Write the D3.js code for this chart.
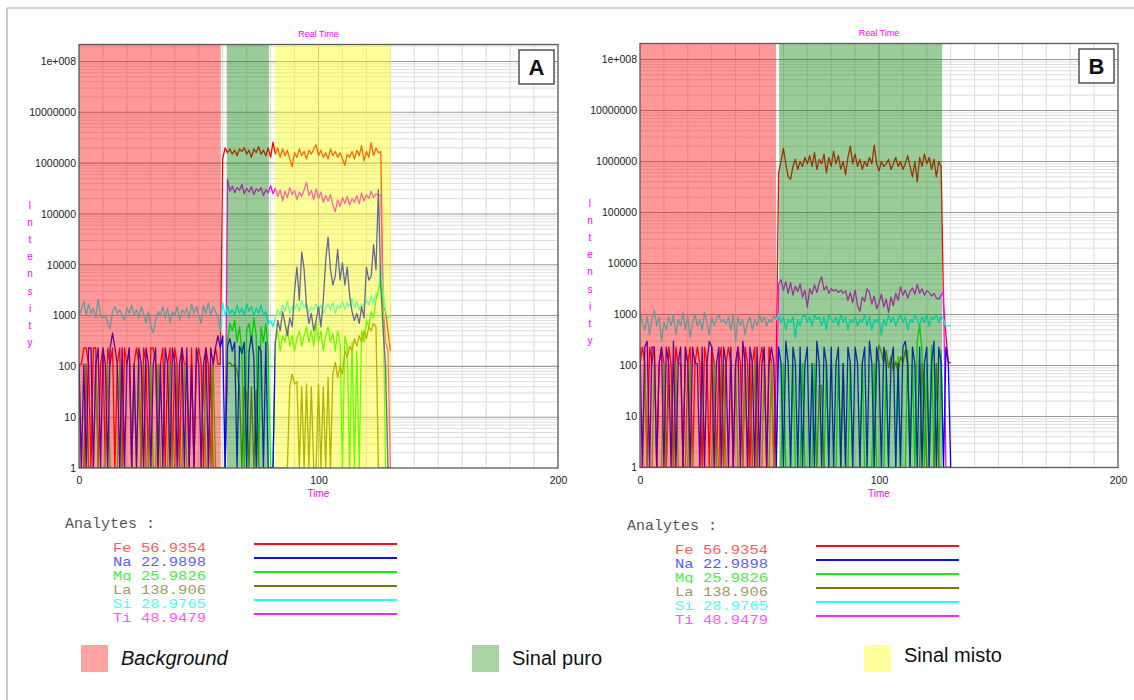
<!DOCTYPE html>
<html>
<head>
<meta charset="utf-8">
<script src="https://cdn.jsdelivr.net/npm/d3@7"></script>
<style>
  body { margin: 0; background: #fff; }
  svg { display: block; }
</style>
</head>
<body>
<svg id="chart" width="1134" height="700"></svg>
<script>
// ---------- data ----------
// one reading per second, 0..130 s
const time = d3.range(0, 131);

const analyteNames  = ["Fe", "Na", "Mg", "La", "Si", "Ti"];
const analyteMasses = ["56.9354", "22.9898", "25.9826", "138.906", "28.9765", "48.9479"];

const yTickValues = [1, 10, 100, 1e3, 1e4, 1e5, 1e6, 1e7, 1e8];
const yTickLabels = ["1", "10", "100", "1000", "10000", "100000", "1000000", "10000000", "1e+008"];
const xTickValues = [0, 100, 200];
const xTickLabels = ["0", "100", "200"];

const regionNames = ["Background", "Sinal puro", "Sinal misto"];

// time windows (s) of each signal zone
const regionsA = [
  { zone: 0, start: 0, end: 59.2 },
  { zone: 1, start: 61.7, end: 79.3 },
  { zone: 2, start: 81.8, end: 130.3 }
];
const regionsB = [
  { zone: 0, start: 0, end: 56.9 },
  { zone: 1, start: 58.2, end: 126.4 }
];

// ---- run A (counts per second) ----
const feA = [
  110,110,230,230,110,1,230,230,1,110,
  230,1,230,110,230,1,110,230,1,230,
  110,230,1,110,230,110,1,230,110,1,
  230,230,110,1,110,230,1,110,230,1,
  230,110,1,230,110,110,1,230,1,110,
  230,110,1,230,110,1,110,230,110,110,
  1.2e6,2.0e6,1.6e6,1.9e6,1.5e6,1.8e6,1.4e6,1.9e6,1.7e6,2.0e6,
  1.5e6,1.8e6,1.3e6,1.9e6,1.6e6,2.1e6,1.5e6,1.8e6,1.4e6,2.0e6,
  1.3e6,2.6e6,1.5e6,2.0e6,1.3e6,1.9e6,1.4e6,1.8e6,1.2e6,8.5e5,
  1.6e6,1.3e6,1.9e6,1.4e6,1.7e6,1.2e6,1.8e6,1.5e6,1.9e6,2.3e6,
  1.4e6,1.8e6,1.3e6,1.6e6,1.2e6,1.9e6,1.4e6,1.7e6,1.3e6,1.6e6,
  1.2e6,9e5,1.5e6,1.3e6,1.7e6,1.2e6,1.8e6,1.4e6,2.2e6,1.1e6,
  1.7e6,1.3e6,2.5e6,1.4e6,2.0e6,1.6e6,1.7e6,1500,1200,500,200
];
const naA = [
  110,1,110,1,230,230,1,110,230,1,
  230,110,1,230,450,230,110,1,230,1,
  110,230,1,110,1,230,110,1,230,110,
  1,110,230,1,110,1,230,110,1,230,
  110,1,110,230,1,230,1,110,1,230,
  110,1,110,230,1,230,110,230,400,230,
  400,1,250,350,200,300,1,250,180,300,
  1,200,400,150,1,250,200,1,300,1,
  1,1,300,800,500,1200,700,400,900,600,
  3000,9000,2000,1.8e4,8000,1500,700,1100,500,800,
  1500,600,2000,1.2e4,3.5e4,8000,4000,6000,2e4,5000,
  1.1e4,4000,9000,2500,1200,800,1100,700,1500,900,
  9000,5000,6000,2.5e4,8000,3e5,4000,500,100,1,1
];
const mgA = [
  110,1,1,110,1,1,1,110,1,1,
  1,1,110,1,1,1,1,110,1,1,
  1,1,1,110,1,110,1,1,1,1,
  110,1,1,110,1,1,1,1,110,1,
  1,1,1,1,110,1,1,1,1,1,
  1,1,110,1,1,1,110,1,1,1,
  1,1,300,700,500,800,300,600,200,1,
  500,700,300,900,400,1,600,300,700,200,
  1,1,300,500,200,400,300,600,250,400,
  200,350,500,250,400,600,300,500,250,700,
  300,500,200,400,600,300,450,200,500,300,
  1,400,250,1,300,1,200,1,500,300,
  800,600,1200,900,2000,3000,5000,2000,1,1,1
];
const laA = [
  1,1,1,110,1,1,1,1,1,1,
  1,1,1,1,1,1,1,1,110,1,
  1,1,1,1,1,1,1,110,1,1,
  1,1,1,1,1,1,1,1,1,1,
  1,110,1,1,1,1,1,1,1,1,
  1,1,1,1,1,110,1,1,1,1,
  1,1,110,120,100,110,80,40,1,40,
  30,1,40,1,35,1,1,1,1,1,
  1,1,1,1,1,1,1,1,40,70,
  45,50,1,40,1,45,1,40,1,1,
  45,1,40,1,60,1,70,120,60,100,
  70,200,150,250,200,350,250,400,300,500,
  350,600,500,700,600,1,1,1,1,1,1
];
const siA = [
  1000,1300,1900,1000,1700,1100,1400,900,2100,1000,
  900,1000,700,550,1200,1500,1100,1300,1000,800,
  1400,1100,1600,1000,1300,900,1500,1100,700,1200,
  600,450,800,1200,1000,1500,900,1400,700,1200,
  1000,1500,800,1300,1100,1400,900,1700,1100,1500,
  1000,700,1600,1100,1800,1000,1500,1200,900,500,
  1800,1000,1500,1100,1300,1000,1600,1100,1400,1000,
  1700,1200,1500,1000,1400,1100,1600,1000,1200,700,
  800,600,900,1300,1000,1600,1200,1900,1100,1500,
  1300,1700,1200,2000,1400,1800,1100,1500,1300,1700,
  1200,1600,1100,1400,1700,1300,1800,1100,1600,1400,
  1900,1300,1800,1500,2200,1400,1900,1300,1700,1500,
  2100,1600,2400,1800,2600,3000,1.0e4,3000,1200,900,1000
];
const tiA = [
  1,1,1,1,1,1,1,1,1,1,
  1,1,1,1,1,1,1,1,1,1,
  1,1,1,1,1,1,1,1,1,1,
  1,1,1,1,1,1,1,1,1,1,
  1,1,1,1,1,1,1,1,1,1,
  1,1,1,1,1,1,1,1,1,1,
  1,1,4.8e5,2.8e5,3.5e5,2.6e5,3.3e5,2.9e5,3.8e5,2.5e5,
  3.2e5,2.7e5,3.4e5,2.4e5,3.1e5,2.8e5,3.3e5,2.3e5,3.0e5,2.6e5,
  3.6e5,2.5e5,3.2e5,2.2e5,3.0e5,1.8e5,2.8e5,2.1e5,3.3e5,2.4e5,
  2.9e5,1.9e5,2.7e5,2.2e5,3.0e5,4.2e5,2.3e5,2.9e5,1.9e5,3.1e5,
  2.0e5,2.7e5,1.7e5,2.3e5,1.8e5,2.4e5,1.5e5,1.1e5,1.9e5,1.4e5,
  2.1e5,1.6e5,2.2e5,1.5e5,2.0e5,1.7e5,2.3e5,1.6e5,2.6e5,1.8e5,
  2.4e5,2.0e5,2.8e5,2.1e5,2.5e5,2.3e5,2.4e5,1500,300,200,1
];

// ---- run B (counts per second) ----
const feB = [
  110,230,110,1,230,110,230,1,110,230,
  110,1,230,110,1,230,110,110,1,230,
  110,230,1,110,230,110,1,230,110,1,
  230,110,1,110,230,1,110,230,110,1,
  110,230,110,1,230,110,1,110,230,1,
  110,230,110,1,230,110,1,110,6e5,1.0e6,
  1.8e6,9e5,5e5,4.5e5,8e5,1.1e6,7e5,1.0e6,8e5,1.2e6,
  9e5,1.3e6,8e5,1.5e6,7e5,1.1e6,9e5,1.4e6,6e5,1.2e6,
  8e5,1.6e6,9e5,1.3e6,7e5,1.0e6,5.5e5,1.2e6,2.0e6,9e5,
  1.4e6,8e5,1.1e6,7e5,1.0e6,8e5,1.2e6,9e5,2.1e6,9e5,
  6.5e5,1.0e6,8e5,9e5,1.1e6,7e5,9e5,1.2e6,8e5,1.0e6,
  7e5,9e5,1.3e6,8e5,5e5,1.0e6,4e5,1.2e6,8e5,1.4e6,
  9e5,1.2e6,7e5,1.1e6,5e5,1.0e6,8e5,1500,400,120,110
];
const naB = [
  230,1,230,300,1,230,230,1,110,230,
  1,230,110,1,300,1,110,230,1,230,
  110,1,230,110,110,1,230,1,110,300,
  230,1,110,230,1,230,110,1,230,1,
  110,230,1,300,110,1,230,110,1,230,
  1,110,230,1,110,230,110,1,230,110,
  1,300,110,1,230,110,1,230,1,110,
  230,1,110,1,300,110,1,230,110,1,
  230,1,110,230,1,110,1,230,110,1,
  230,110,1,110,230,1,300,110,1,230,
  110,1,230,110,1,110,230,1,110,1,
  230,300,110,1,230,110,1,230,1,110,
  230,1,110,300,1,230,110,1,230,110,1
];
const mgB = [
  1,1,110,1,1,1,110,1,1,1,
  110,1,1,1,1,110,1,1,1,1,
  1,110,1,1,1,1,110,1,1,1,
  1,110,1,1,1,110,1,1,1,1,
  110,1,1,1,110,1,1,1,110,1,
  1,1,110,1,1,110,1,1,1,1,
  110,1,1,1,110,1,1,1,110,1,
  1,1,1,110,1,1,1,1,110,1,
  1,1,1,110,1,1,1,1,110,1,
  1,1,1,110,1,1,1,1,110,1,
  1,1,1,110,1,1,1,1,150,1,
  1,1,200,1,110,1,300,600,200,1,
  110,1,250,1,110,1,200,1,1,1,1
];
const laB = [
  1,1,1,1,1,1,1,1,1,1,
  1,1,40,40,1,1,1,1,1,1,
  110,1,1,1,1,1,1,1,1,1,
  1,1,1,1,110,1,1,1,1,1,
  1,1,1,1,1,1,110,1,1,1,
  1,1,1,1,1,1,1,1,1,1,
  1,1,1,1,1,1,1,1,1,1,
  1,1,1,1,1,40,40,1,1,1,
  1,1,1,1,1,110,1,1,1,1,
  1,1,1,1,1,1,1,1,1,110,
  250,180,110,200,90,150,80,120,70,150,
  110,200,100,1,1,1,1,1,110,40,
  1,1,1,1,110,1,1,1,1,1,1
];
const siB = [
  1100,700,500,900,400,800,1200,600,900,300,
  700,500,900,600,1000,400,800,600,1100,500,
  900,350,700,1000,600,800,500,1100,700,400,
  900,600,800,1000,700,800,650,900,500,1000,
  300,900,600,800,400,700,900,500,800,600,
  1000,700,900,600,800,700,950,800,1000,700,
  900,500,800,700,900,350,800,600,900,1000,
  700,900,600,1000,800,900,600,900,500,1000,
  800,700,900,600,1000,700,900,500,800,700,
  900,600,800,700,1000,600,900,500,800,700,
  900,400,800,600,1000,700,900,600,800,1000,
  700,900,500,800,700,1000,800,600,900,700,
  1000,600,900,800,1000,700,900,800,600,600,600
];
const tiB = [
  1,1,1,1,1,1,1,1,1,1,
  1,1,1,1,1,1,1,1,1,1,
  1,1,1,1,1,1,1,1,1,1,
  1,1,1,1,1,1,1,1,1,1,
  1,1,1,1,1,1,1,1,1,1,
  1,1,1,1,1,1,1,1,4000,4800,
  3000,4400,2600,4200,2400,3600,2800,4000,2200,3000,
  1400,3200,2500,3800,2700,4200,5500,3000,3600,2600,
  3200,2900,3100,2700,3000,2600,2900,1900,2700,1700,
  3000,1500,1150,2200,1800,3200,2700,1600,2300,1300,
  1700,2500,1400,2000,1100,2200,1500,2600,1900,3500,
  2400,3000,2100,2800,3300,2500,3900,2600,3200,2400,
  2900,2700,2300,2600,2100,2000,2400,2800,1,1,1
];

// ---------- styles ----------
const traceColors  = ["#ff0000", "#0000ff", "#00ff00", "#808000", "#00ffff", "#ff00ff"];
const textColors   = ["#ff5c5c", "#5c5cff", "#45ee45", "#9e9c5e", "#45ffff", "#ff55ff"];
const legendColors = ["#ff1010", "#1010ff", "#10ee10", "#77770e", "#20ffff", "#ff20ff"];
const zoneFills    = ["rgba(255,0,0,0.4)", "rgba(0,128,0,0.4)", "rgba(255,255,0,0.4)"];
const zoneSwatches = ["#ffa2a2", "#a8d4a5", "#ffff9c"];
const drawOrder    = [0, 5, 4, 2, 3, 1];

const svg = d3.select("#chart");

// outer frame
svg.append("line").attr("x1", 7).attr("y1", 8).attr("x2", 1134).attr("y2", 8)
  .attr("stroke", "#a8a8a8").attr("stroke-width", 1.2);
svg.append("line").attr("x1", 7).attr("y1", 8).attr("x2", 7).attr("y2", 700)
  .attr("stroke", "#a8a8a8").attr("stroke-width", 1.2);

function drawPanel(id, L, series, regions, letter) {
  const g = svg.append("g");
  const x = d3.scaleLinear().domain([0, 200]).range([L.left, L.right]);
  const y = d3.scaleLog().domain([1, 1e8]).range([L.bottom, L.y1e8]);

  // clip
  svg.append("clipPath").attr("id", "clip" + id)
    .append("rect").attr("x", L.left).attr("y", L.top)
    .attr("width", L.right - L.left).attr("height", L.bottom - L.top);

  // vertical grid
  const xGrid = d3.range(10, 200, 10);
  g.selectAll(".vg").data(xGrid).join("line")
    .attr("x1", d => x(d)).attr("x2", d => x(d))
    .attr("y1", L.top).attr("y2", L.bottom)
    .attr("stroke", d => d % 100 === 0 ? "#a9a9a9" : "#dadada").attr("stroke-width", 1);

  // minor horizontal grid (2..9 per decade)
  const minors = [];
  for (let p = 0; p <= 8; p++) for (let k = 2; k <= 9; k++) {
    const v = k * Math.pow(10, p);
    if (y(v) > L.top + 1) minors.push(v);
  }
  g.selectAll(".mg").data(minors).join("line")
    .attr("x1", L.left).attr("x2", L.right)
    .attr("y1", d => y(d)).attr("y2", d => y(d))
    .attr("stroke", "#dedede").attr("stroke-width", 1);

  // major horizontal grid
  g.selectAll(".Mg").data(yTickValues.slice(1)).join("line")
    .attr("x1", L.left).attr("x2", L.right)
    .attr("y1", d => y(d)).attr("y2", d => y(d))
    .attr("stroke", "#9a9a9a").attr("stroke-width", 1.1);

  // traces
  const line = d3.line().x((v, i) => x(time[i])).y(v => y(v));
  const traces = g.append("g").attr("clip-path", `url(#clip${id})`);
  drawOrder.forEach(k => {
    traces.append("path").datum(series[k])
      .attr("d", line).attr("fill", "none")
      .attr("stroke", traceColors[k]).attr("stroke-width", 1.3)
      .attr("stroke-linejoin", "round");
  });

  // signal zones
  g.append("g").attr("clip-path", `url(#clip${id})`)
    .selectAll("rect").data(regions).join("rect")
    .attr("x", d => x(d.start)).attr("width", d => x(d.end) - x(d.start))
    .attr("y", L.top).attr("height", L.bottom - L.top)
    .attr("fill", d => zoneFills[d.zone]);

  // frame
  g.append("rect").attr("x", L.left).attr("y", L.top)
    .attr("width", L.right - L.left).attr("height", L.bottom - L.top)
    .attr("fill", "none").attr("stroke", "#5a5a5a").attr("stroke-width", 1.3);

  // y axis
  const yAxis = d3.axisLeft(y).tickValues(yTickValues)
    .tickFormat((d, i) => yTickLabels[i]).tickSize(0).tickPadding(3);
  const ya = g.append("g").attr("transform", `translate(${L.left},0)`).call(yAxis);
  ya.select(".domain").remove();
  ya.selectAll("text").attr("font-family", "Arial, 'Liberation Sans', sans-serif")
    .attr("font-size", 10.5).attr("fill", "#1a1a1a");

  // x axis
  const xAxis = d3.axisBottom(x).tickValues(xTickValues)
    .tickFormat((d, i) => xTickLabels[i]).tickSize(0).tickPadding(9);
  const xa = g.append("g").attr("transform", `translate(0,${L.bottom})`).call(xAxis);
  xa.select(".domain").remove();
  xa.selectAll("text").attr("font-family", "Arial, 'Liberation Sans', sans-serif")
    .attr("font-size", 10.5).attr("fill", "#1a1a1a");

  const mid = (L.left + L.right) / 2;
  g.append("text").attr("x", mid).attr("y", L.top - 8).attr("text-anchor", "middle")
    .attr("font-family", "Arial, 'Liberation Sans', sans-serif").attr("font-size", 9)
    .attr("fill", "#ff00ff").text("Real Time");
  g.append("text").attr("x", mid).attr("y", L.bottom + 29).attr("text-anchor", "middle")
    .attr("font-family", "Arial, 'Liberation Sans', sans-serif").attr("font-size", 10)
    .attr("fill", "#ff00ff").text("Time");

  // stacked y title
  const letters = "Intensity".split("");
  g.selectAll(".yt").data(letters).join("text")
    .attr("x", L.titleX).attr("y", (d, i) => L.titleY + i * 17.1)
    .attr("text-anchor", "middle")
    .attr("font-family", "Arial, 'Liberation Sans', sans-serif").attr("font-size", 10)
    .attr("fill", "#ff00ff").text(d => d);

  // panel letter
  g.append("rect").attr("x", L.right - 39).attr("y", L.top + 5.5)
    .attr("width", 35).attr("height", 34)
    .attr("fill", "#fff").attr("stroke", "#3a3a3a").attr("stroke-width", 1.3);
  g.append("text").attr("x", L.right - 21.5).attr("y", L.top + 30.5)
    .attr("text-anchor", "middle")
    .attr("font-family", "Arial, 'Liberation Sans', sans-serif")
    .attr("font-size", 22).attr("font-weight", "bold").attr("fill", "#111").text(letter);

  // analyte legend (rows packed tightly, 14 px apart)
  const mono = "'Courier New', 'Liberation Mono', monospace";
  g.append("text").attr("x", L.legX).attr("y", L.legY)
    .attr("font-family", mono).attr("font-size", 15).attr("fill", "#555")
    .text("Analytes :");
  analyteNames.forEach((name, i) => {
    const base = L.legY + 24 + i * 14;
    const cid = `row${id}${i}`;
    svg.append("clipPath").attr("id", cid).append("rect")
      .attr("x", L.legX + 40).attr("y", base - 13).attr("width", 140).attr("height", 14.5);
    g.append("text").attr("x", L.legX + 48).attr("y", base)
      .attr("clip-path", `url(#${cid})`)
      .attr("font-family", mono).attr("font-size", 12.2).attr("fill", textColors[i])
      .attr("textLength", 93).attr("lengthAdjust", "spacingAndGlyphs")
      .text(`${name} ${analyteMasses[i]}`);
    g.append("line").attr("x1", L.legX + 189).attr("x2", L.legX + 332)
      .attr("y1", base - 8).attr("y2", base - 8)
      .attr("stroke", legendColors[i]).attr("stroke-width", 2.2);
  });
}

drawPanel("A",
  { left: 79, right: 558, top: 44.5, bottom: 468, y1e8: 61.5, titleX: 30, titleY: 209, legX: 65, legY: 528 },
  [feA, naA, mgA, laA, siA, tiA], regionsA, "A");
drawPanel("B",
  { left: 640, right: 1118, top: 43.5, bottom: 467.5, y1e8: 59.5, titleX: 590, titleY: 207, legX: 627, legY: 530 },
  [feB, naB, mgB, laB, siB, tiB], regionsB, "B");

// zone legend
const zoneLegend = [
  { x: 81, text: regionNames[0], italic: true, dy: 0 },
  { x: 472, text: regionNames[1], italic: false, dy: 0 },
  { x: 864, text: regionNames[2], italic: false, dy: -3 }
];
zoneLegend.forEach((z, i) => {
  svg.append("rect").attr("x", z.x).attr("y", 645).attr("width", 27).attr("height", 27)
    .attr("fill", zoneSwatches[i]);
  svg.append("text").attr("x", z.x + 40).attr("y", 665 + z.dy)
    .attr("font-family", "Arial, 'Liberation Sans', sans-serif")
    .attr("font-size", 20).attr("font-style", z.italic ? "italic" : "normal")
    .attr("fill", "#111").text(z.text);
});
</script>
</body>
</html>
